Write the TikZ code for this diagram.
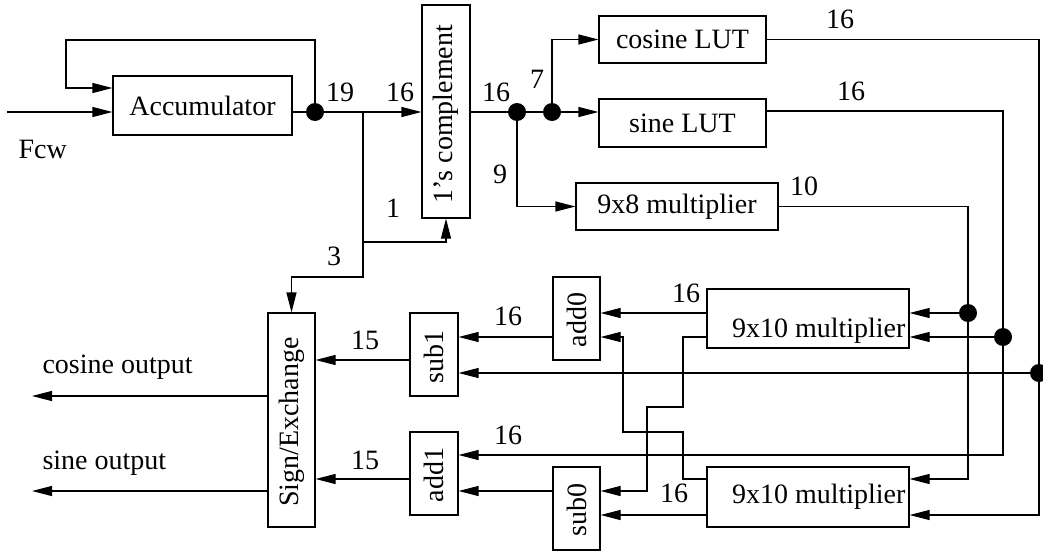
\documentclass[tikz,border=0pt]{standalone}
\usepackage{fontspec}
\setmainfont{Liberation Serif}
\usetikzlibrary{arrows.meta}
\begin{document}
\begin{tikzpicture}[x=1pt,y=-1pt,line width=1.1pt,
  every node/.style={font=\fontsize{28}{34}\selectfont,inner sep=0pt},
  box/.style={draw,rectangle,line width=1.1pt},
  vtext/.style={rotate=90},
  arr/.style={-{Triangle[length=20pt,width=10pt]}},
  dotfill/.style={fill=black}]
\useasboundingbox (0,0) rectangle (1043,554);

% boxes
\node[box,minimum width=179pt,minimum height=59pt] (acc) at (202.5,105.5) {Accumulator};
\node[box,minimum width=48pt,minimum height=213pt] (comp) at (446,111.5) {};
\node[vtext] (compT) at (446,114) {1’s complement};
\node[box,minimum width=167pt,minimum height=47pt] (cos) at (682.5,39.5) {cosine LUT};
\node[box,minimum width=167pt,minimum height=48pt] (sin) at (682.5,123) {sine LUT};
\node[box,minimum width=202pt,minimum height=47pt] (m98) at (677,206.5) {9x8 multiplier};
\node[box,minimum width=202pt,minimum height=59pt] (m1) at (808,318.5) {};
\node[anchor=base east] (m1T) at (906,337) {9x10 multiplier};
\node[box,minimum width=202pt,minimum height=60pt] (m2) at (808,497) {};
\node[anchor=base east] (m2T) at (906,503) {9x10 multiplier};
\node[box,minimum width=47pt,minimum height=83pt] (add0) at (576.5,318.5) {};
\node[vtext] (add0T) at (576.5,320) {add0};
\node[box,minimum width=47pt,minimum height=83pt] (sub0) at (576.5,508.5) {};
\node[vtext] (sub0T) at (576.5,510) {sub0};
\node[box,minimum width=48pt,minimum height=83pt] (sub1) at (434,354.5) {};
\node[vtext] (sub1T) at (434,357) {sub1};
\node[box,minimum width=48pt,minimum height=83pt] (add1) at (434,473.5) {};
\node[vtext] (add1T) at (434,475) {add1};
\node[box,minimum width=47pt,minimum height=214pt] (se) at (291.5,420) {};
\node[vtext] (seT) at (291.5,422) {Sign/Exchange};

% junctions
\coordinate (fin) at (7,112);
\coordinate (dA) at (315,112);
\coordinate (j1) at (363,112);
\coordinate (dB) at (517,112);
\coordinate (dC) at (552,112);
\coordinate (dD) at (968,313);
\coordinate (dE) at (1003,337);
\coordinate (dF) at (1039,373);
\coordinate (oc) at (32,396);
\coordinate (os) at (32,491);

% connectors
\draw[arr] (fin) -- (acc.west |- fin);
\draw (acc.east |- dA) -- (dA);
\draw[arr] (dA) |- (66,40) |- (acc.west |- 0,88);
\draw[arr] (dA) -- (comp.west |- dA);
\draw[arr] (j1) |- (comp.south |- 0,242) -- (comp.south);
\draw[arr] (j1) |- (se.north |- 0,277) -- (se.north);
\draw (comp.east |- dB) -- (dC);
\draw[arr] (dC) -- (sin.west |- dC);
\draw[arr] (dC) |- (cos.west);
\draw[arr] (dB) |- (m98.west);
\draw[arr] (cos.east) -| (dF) |- (m2.east |- 0,515);
\draw[arr] (dF) -- (sub1.east |- dF);
\draw[arr] (sin.east |- 0,111) -| (dE) |- (add1.east |- 0,455);
\draw[arr] (dE) -- (m1.east |- dE);
\draw[arr] (m98.east) -| (dD) |- (m2.east |- 0,479);
\draw[arr] (dD) -- (m1.east |- dD);
\draw[arr] (m1.west |- 0,313) -- (add0.east |- 0,313);
\draw[arr] (m1.west |- 0,337) -| (683,407) -| (647,491) -- (sub0.east |- 0,491);
\draw[arr] (m2.west |- 0,479) -| (683,432) -| (623,337) -- (add0.east |- 0,337);
\draw[arr] (m2.west |- 0,515) -- (sub0.east |- 0,515);
\draw[arr] (add0.west |- 0,337) -- (sub1.east |- 0,337);
\draw[arr] (sub0.west |- 0,491) -- (add1.east |- 0,491);
\draw[arr] (sub1.west |- 0,360) -- (se.east |- 0,360);
\draw[arr] (add1.west |- 0,479) -- (se.east |- 0,479);
\draw[arr] (se.west |- oc) -- (oc);
\draw[arr] (se.west |- os) -- (os);

% dots
\foreach \p in {dA,dB,dC,dD,dE,dF} \fill[dotfill] (\p) circle (9pt);

% labels
\node[anchor=base west] (fcw) at (18,158) {Fcw};
\node[anchor=base west] (cosout) at (42,373) {cosine output};
\node[anchor=base west] (sinout) at (42,469) {sine output};
\node (l19) at (340,92) {19};
\node (l16a) at (400,92) {16};
\node (l16b) at (496,92) {16};
\node (l7) at (537,79) {7};
\node (l9) at (500,174) {9};
\node (l1) at (393,208) {1};
\node (l3) at (334,256) {3};
\node (l16c) at (840,19) {16};
\node (l16s) at (851,91) {16};
\node (l10) at (804,186) {10};
\node (l16d) at (686,293) {16};
\node (l16e) at (508,316) {16};
\node (l15a) at (365,340) {15};
\node (l16f) at (508,435) {16};
\node (l15b) at (365,460) {15};
\node (l16g) at (674,493) {16};
\end{tikzpicture}
\end{document}
